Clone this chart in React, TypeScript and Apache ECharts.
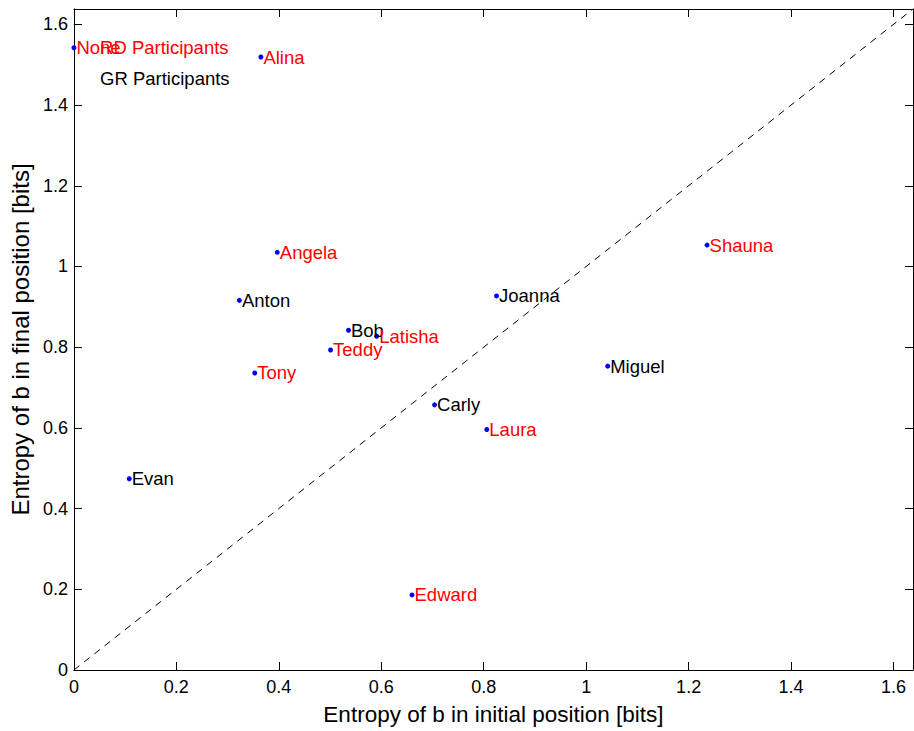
import React, { useEffect, useRef } from "react";
import * as echarts from "echarts";

const names = ["None", "Alina", "Angela", "Anton", "Bob", "Latisha", "Teddy", "Tony", "Joanna", "Shauna", "Miguel", "Carly", "Laura", "Evan", "Edward"];
const xValues = [0.0, 0.365, 0.397, 0.323, 0.536, 0.591, 0.501, 0.353, 0.825, 1.236, 1.042, 0.704, 0.806, 0.108, 0.660];
const yValues = [1.542, 1.519, 1.035, 0.916, 0.842, 0.827, 0.793, 0.736, 0.927, 1.053, 0.753, 0.657, 0.596, 0.474, 0.186];
const groups = ["RD", "RD", "RD", "GR", "GR", "RD", "RD", "RD", "GR", "RD", "GR", "GR", "RD", "GR", "RD"];

const legendNames = ["RD Participants", "GR Participants"];
const legendX = [0.051, 0.051];
const legendY = [1.542, 1.465];
const legendGroups = ["RD", "GR"];

const diagonal = [0, 1.638];
const axisMin = 0;
const axisMax = 1.638;
const tickStep = 0.2;

const xTitle = "Entropy of b in initial position [bits]";
const yTitle = "Entropy of b in final position [bits]";

const groupColor: Record<string, string> = { RD: "#ff0000", GR: "#000000" };
const FONT = "'Liberation Sans', Arial, Helvetica, sans-serif";

export default function App() {
  const ref = useRef<HTMLDivElement>(null);
  useEffect(() => {
    if (!ref.current) return;
    const chart = echarts.init(ref.current, undefined, { renderer: "svg" });
    const axisCommon = {
      type: "value" as const,
      min: axisMin,
      max: axisMax,
      interval: tickStep,
      splitLine: { show: false },
      axisLine: { show: true, onZero: false, lineStyle: { color: "#000", width: 1 } },
      axisTick: { show: true, inside: true, length: 8, lineStyle: { color: "#000", width: 1 } },
    };
    const labelCommon = {
      show: true,
      position: "right",
      distance: 0,
      formatter: (p: any) => p.name,
      fontSize: 18.5,
      fontFamily: FONT,
      opacity: 1,
    };
    const option = {
      animation: false,
      backgroundColor: "#fff",
      grid: { left: 72, right: 1, top: 9, bottom: 59, containLabel: false },
      xAxis: [
        {
          ...axisCommon,
          position: "bottom",
          name: xTitle,
          nameLocation: "middle",
          nameGap: 33,
          nameTextStyle: { fontSize: 22.5, color: "#000", fontFamily: FONT },
          axisLabel: { show: true, showMaxLabel: false, margin: 8, fontSize: 18, color: "#000", fontFamily: FONT },
        },
        {
          ...axisCommon,
          position: "top",
          axisLabel: { show: false },
        },
      ],
      yAxis: [
        {
          ...axisCommon,
          position: "left",
          name: yTitle,
          nameLocation: "middle",
          nameGap: 39,
          nameTextStyle: { fontSize: 24, color: "#000", fontFamily: FONT },
          axisLabel: { show: true, showMaxLabel: false, margin: 6, fontSize: 18, color: "#000", fontFamily: FONT },
        },
        {
          ...axisCommon,
          position: "right",
          axisLabel: { show: false },
        },
      ],
      series: [
        {
          type: "line",
          data: diagonal.map((v) => [v, v]),
          showSymbol: false,
          symbol: "none",
          lineStyle: { color: "#000", width: 1, type: [7, 6] },
          silent: true,
          z: 1,
        },
        {
          type: "scatter",
          symbol: "circle",
          symbolSize: 5,
          itemStyle: { color: "#0000ff", opacity: 1 },
          data: names.map((n, i) => ({
            name: n,
            value: [xValues[i], yValues[i]],
            label: { color: groupColor[groups[i]] },
          })),
          label: labelCommon,
          z: 3,
        },
        {
          type: "scatter",
          symbolSize: 0,
          itemStyle: { opacity: 1 },
          data: legendNames.map((n, i) => ({
            name: n,
            value: [legendX[i], legendY[i]],
            label: { color: groupColor[legendGroups[i]] },
          })),
          label: labelCommon,
          z: 2,
        },
      ],
    };
    chart.setOption(option as any);
    return () => chart.dispose();
  }, []);
  return <div ref={ref} style={{ width: 914, height: 731, position: "absolute", left: 0, top: 0 }} />;
}
